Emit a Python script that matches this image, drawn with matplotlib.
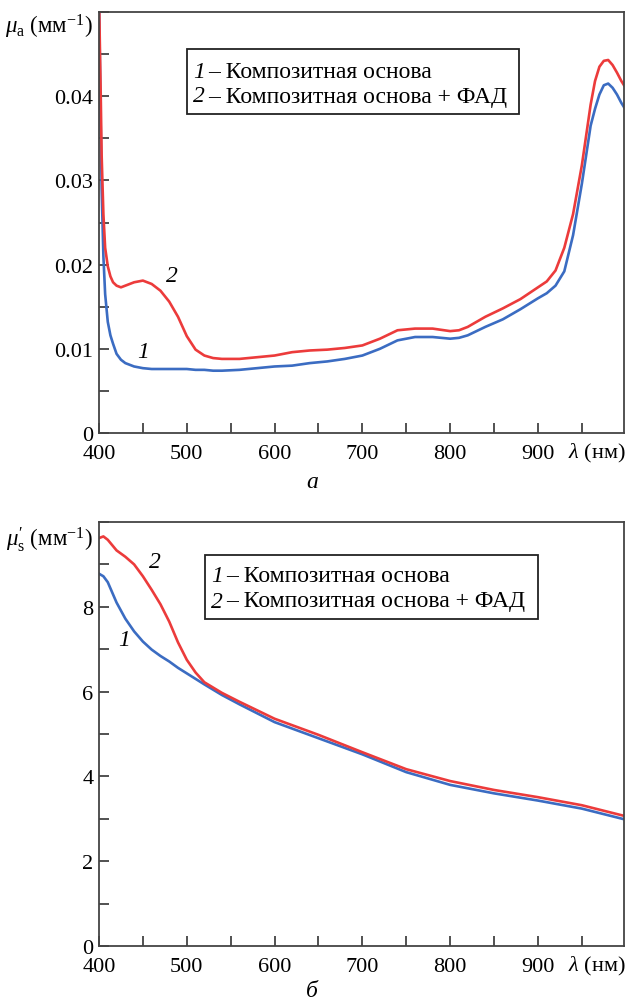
import matplotlib
matplotlib.use("Agg")
import matplotlib.pyplot as plt
from matplotlib.ticker import MultipleLocator
from matplotlib.patches import Rectangle

plt.rcParams['font.family'] = ['Liberation Serif', 'DejaVu Serif']
plt.rcParams['mathtext.fontset'] = 'custom'
plt.rcParams['mathtext.rm'] = 'Liberation Serif'
plt.rcParams['mathtext.it'] = 'Liberation Serif:italic'

# panel a: absorption coefficient
lam_a = [400, 401, 402, 403, 405, 407, 410, 413, 416, 420, 425, 430, 440, 450, 460,
         470, 480, 490, 500, 510, 520, 530, 540, 560, 580, 600, 620, 640, 660, 680,
         700, 720, 740, 760, 780, 800, 810, 820, 840, 860, 880, 900, 910, 920, 930,
         940, 950, 960, 965, 970, 975, 980, 985, 990, 995, 998]
mua_1 = [0.052, 0.044, 0.036, 0.029, 0.021, 0.0165, 0.0132, 0.0116, 0.0106, 0.0094,
         0.0087, 0.0083, 0.0079, 0.0077, 0.0076, 0.0076, 0.0076, 0.0076, 0.0076, 0.0075,
         0.0075, 0.0074, 0.0074, 0.0075, 0.0077, 0.0079, 0.0080, 0.0083, 0.0085, 0.0088,
         0.0092, 0.0100, 0.0110, 0.0114, 0.0114, 0.0112, 0.0113, 0.0116, 0.0126, 0.0135,
         0.0147, 0.0160, 0.0166, 0.0175, 0.0192, 0.0235, 0.0296, 0.0365, 0.0385, 0.0402,
         0.0413, 0.0415, 0.0410, 0.0402, 0.0392, 0.0387]
mua_2 = [0.052, 0.046, 0.040, 0.033, 0.026, 0.022, 0.0198, 0.0186, 0.0179, 0.0175,
         0.0173, 0.0175, 0.0179, 0.0181, 0.0177, 0.0169, 0.0156, 0.0138, 0.0115, 0.0099,
         0.0092, 0.0089, 0.0088, 0.0088, 0.0090, 0.0092, 0.0096, 0.0098, 0.0099, 0.0101,
         0.0104, 0.0112, 0.0122, 0.0124, 0.0124, 0.0121, 0.0122, 0.0126, 0.0138, 0.0148,
         0.0159, 0.0173, 0.0180, 0.0193, 0.0220, 0.0260, 0.0318, 0.0390, 0.0418, 0.0435,
         0.0442, 0.0443, 0.0437, 0.0428, 0.0418, 0.0413]

# panel b: reduced scattering coefficient
lam_s = [400, 405, 410, 420, 430, 440, 450, 460, 470, 480, 490, 500, 510, 520, 540,
         560, 580, 600, 650, 700, 750, 800, 850, 900, 950, 998]
mus_1 = [8.78, 8.72, 8.58, 8.10, 7.72, 7.42, 7.18, 6.99, 6.84, 6.71, 6.56, 6.43, 6.30,
         6.17, 5.92, 5.70, 5.49, 5.28, 4.90, 4.52, 4.10, 3.80, 3.60, 3.43, 3.24, 2.99]
mus_2 = [9.62, 9.66, 9.58, 9.33, 9.18, 9.00, 8.72, 8.40, 8.06, 7.65, 7.16, 6.75, 6.45,
         6.22, 5.97, 5.76, 5.56, 5.36, 4.98, 4.57, 4.17, 3.89, 3.68, 3.51, 3.32, 3.07]

legend_nums = ["1", "2"]
legend_texts = ["– Композитная основа", "– Композитная основа + ФАД"]

red = "#ec3b3b"
blue = "#3b6cc2"
W, H = 628, 1003
fs = 17


def fx(px):
    return px / W


def fy(py):
    return 1 - py / H


fig = plt.figure(figsize=(W / 100, H / 100), dpi=100)
ax1 = fig.add_axes([fx(99), fy(434), 525 / W, 421 / H])
ax2 = fig.add_axes([fx(99), fy(947), 525 / W, 424 / H])


def style(ax, ymax, ymajor, yminor, fmt, ybase):
    ax.set_xlim(400, 998)
    ax.set_ylim(0, ymax)
    ax.xaxis.set_major_locator(MultipleLocator(100))
    ax.xaxis.set_minor_locator(MultipleLocator(50))
    ax.yaxis.set_major_locator(MultipleLocator(ymajor))
    ax.yaxis.set_minor_locator(MultipleLocator(yminor))
    ax.yaxis.set_major_formatter(fmt)
    ax.tick_params(which='both', direction='in', length=7.5, width=1.2,
                   top=False, right=False, labelsize=16, color='#333333')
    ax.tick_params(axis='x', pad=8)
    ax.tick_params(axis='y', pad=4)
    for s in ax.spines.values():
        s.set_linewidth(1.3)
        s.set_color('#444444')
    fig.text(fx(626), fy(ybase + 19), "$\\mathit{λ}$ (нм)", ha='right', va='center',
             fontsize=16)


ax1.plot(lam_a, mua_1, color=blue, lw=1.9)
ax1.plot(lam_a, mua_2, color=red, lw=1.9)
style(ax1, 0.05, 0.01, 0.005,
      lambda v, p: "0" if v == 0 else ("" if v > 0.045 else f"{v:.2f}"), 434)

ax2.plot(lam_s, mus_1, color=blue, lw=1.9)
ax2.plot(lam_s, mus_2, color=red, lw=1.9)
style(ax2, 10, 2, 1, lambda v, p: "" if v > 9 else f"{v:.0f}", 947)

# legend boxes: (left, top, right, bottom, first line y, number x)
for x0, y0, x1, y1, ly, nx in [(187, 50, 519, 115, 72, 199), (205, 556, 538, 620, 577, 217)]:
    fig.patches.append(Rectangle((fx(x0), fy(y1)), (x1 - x0) / W, (y1 - y0) / H,
                                 transform=fig.transFigure, fc='white', ec='#222222',
                                 lw=1.3))
    for i in range(2):
        yy = fy(ly + 25 * i)
        fig.text(fx(nx), yy, legend_nums[i], fontsize=fs, style='italic',
                 ha='center', va='center')
        fig.text(fx(nx + 9), yy, legend_texts[i], fontsize=fs, ha='left', va='center')

# curve numbers
for x, y, t in [(172, 277, "2"), (143, 352, "1"), (155, 563, "2"), (124, 640, "1")]:
    fig.text(fx(x), fy(y), t, fontsize=fs, style='italic', ha='center', va='center')

fig.text(fx(93), fy(27), "$μ_{\\mathrm{a}}$ (мм$^{-1}$)", fontsize=16.5,
         ha='right', va='center')
fig.text(fx(93), fy(540), "$μ_{\\mathrm{s}}^{\\prime}$ (мм$^{-1}$)", fontsize=16.5,
         ha='right', va='center')

fig.text(fx(312), fy(483), "а", fontsize=fs, style='italic', ha='center', va='center')
fig.text(fx(312), fy(992), "б", fontsize=fs, style='italic', ha='center', va='center')

fig.savefig("out.png", dpi=100)
